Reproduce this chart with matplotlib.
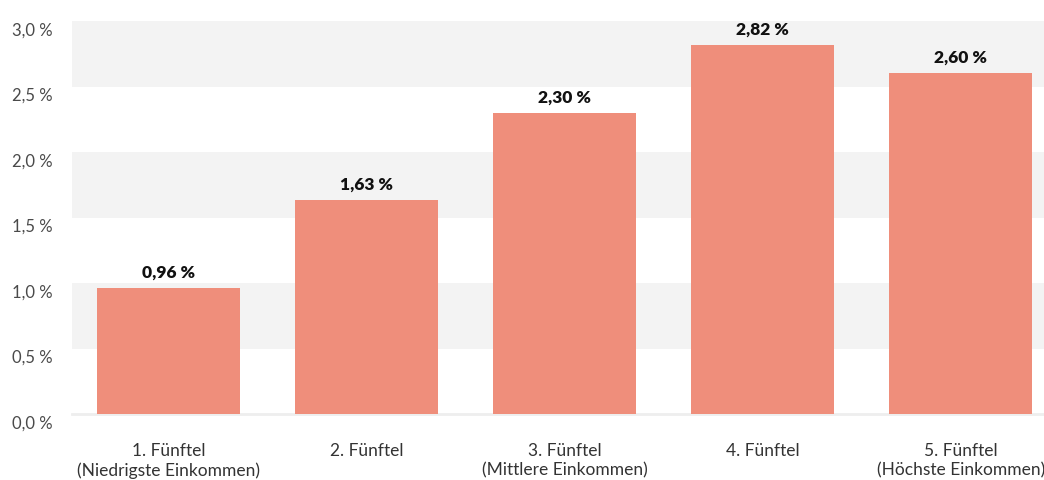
import matplotlib
matplotlib.use("Agg")
import matplotlib.pyplot as plt

# Anteil je Einkommensfünftel
categories = ["1. Fünftel\n(Niedrigste Einkommen)", "2. Fünftel",
              "3. Fünftel\n(Mittlere Einkommen)", "4. Fünftel",
              "5. Fünftel\n(Höchste Einkommen)"]
values = [0.96, 1.63, 2.30, 2.82, 2.60]
yticks = [0.0, 0.5, 1.0, 1.5, 2.0, 2.5, 3.0]

bar_color = "#EF8E7B"
band_color = "#F3F3F3"

plt.rcParams["font.family"] = ["Lato", "DejaVu Sans"]

fig = plt.figure(figsize=(10.44, 4.81), dpi=100)
ax = fig.add_axes([72 / 1044, 1 - 415 / 481, 1 - 72 / 1044, (415 - 22) / 481])

# alternating grey bands
for lo in [0.5, 1.5, 2.5]:
    ax.axhspan(lo, lo + 0.5, color=band_color, zorder=0, lw=0)

x = list(range(len(values)))
ax.bar(x, values, width=0.72, color=bar_color, zorder=2)

for xi, v in zip(x, values):
    ax.annotate(f"{v:.2f} %".replace(".", ","), (xi, v), xytext=(0, 6),
                textcoords="offset points", ha="center", va="bottom",
                fontsize=12.5, fontweight="heavy", color="#111111")

ax.set_xlim(-0.487, 4.42)
ax.set_ylim(0, 3.0)

# y labels sit slightly below their level
ax.set_yticks([])
for t in yticks:
    ax.annotate(f"{t:.1f} %".replace(".", ","), (0, t),
                xycoords=("axes fraction", "data"), xytext=(-14, -6),
                textcoords="offset points", ha="right", va="center",
                fontsize=12, color="#4a4a4a", annotation_clip=False)

ax.set_xticks(x)
ax.set_xticklabels(categories, fontsize=12.5, color="#333333",
                   linespacing=1.25)

ax.tick_params(axis="both", length=0)
ax.tick_params(axis="x", pad=20)
for s in ["top", "right", "left"]:
    ax.spines[s].set_visible(False)
ax.spines["bottom"].set_color("#EEEEEE")
ax.spines["bottom"].set_linewidth(2)
ax.spines["bottom"].set_zorder(1)

fig.savefig("out.png", dpi=100)
